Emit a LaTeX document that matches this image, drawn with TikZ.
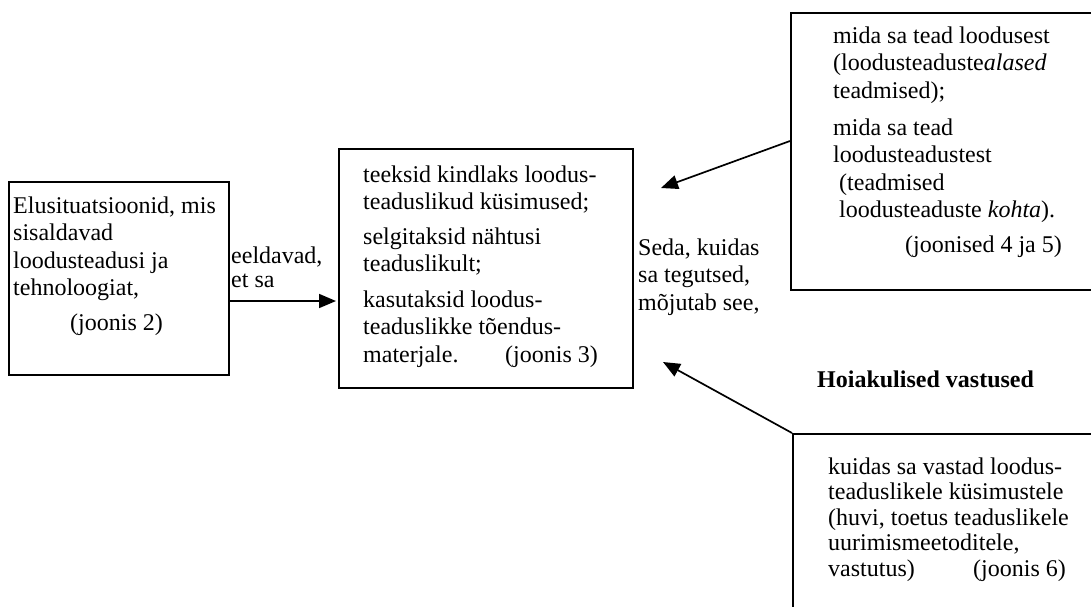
\documentclass[tikz,border=0pt]{standalone}
\usepackage{fontspec}
\setmainfont{Liberation Serif}
\usetikzlibrary{arrows.meta}
\newcommand\fstrut{\rule{0pt}{19.25pt}}
\begin{document}
\begin{tikzpicture}[x=1pt,y=-1pt,
  boxnode/.style={draw, line width=1.9pt, inner sep=0pt, anchor=north west},
  txt/.style={anchor=north west, inner sep=0pt, align=left,
    font=\fontsize{24}{27.5}\selectfont},
  arr/.style={line width=1.7pt, -{Triangle[length=17pt,width=14pt]}}]
\useasboundingbox (0,0) rectangle (1091,606);
\clip (0,0) rectangle (1091,606);
% boxes
\node[boxnode, minimum width=220pt, minimum height=193pt] (L) at (8,181) {};
\node[boxnode, minimum width=294pt, minimum height=239pt] (M) at (338,148) {};
\node[boxnode, minimum width=330pt, minimum height=277pt] (TR) at (790,12) {};
\node[boxnode, minimum width=330pt, minimum height=200pt] (BR) at (792,433) {};
% texts
\node[txt] (Lt) at (13,{213-19.25}) {\fstrut Elusituatsioonid, mis\\ sisaldavad\\ loodusteadusi ja\\ tehnoloogiat,\\[7pt] \hspace*{57pt}(joonis 2)};
\node[txt] (Et) at (231,{263-19.25}) {\fstrut eeldavad,\\[-3pt] et sa};
\node[txt] (Mt) at (363,{182-19.25}) {\fstrut teeksid kindlaks loodus-\\ teaduslikud küsimused;\\[7pt] selgitaksid nähtusi\\ teaduslikult;\\[8pt] kasutaksid loodus-\\ teaduslikke tõendus-\\ \makebox[142pt][l]{materjale.}(joonis 3)};
\node[txt] (St) at (638,{255-19.25}) {\fstrut Seda, kuidas\\ sa tegutsed,\\ mõjutab see,};
\node[txt] (TRt) at (833,{43-19.25}) {\fstrut mida sa tead loodusest\\ (loodusteaduste\textit{alased}\\ teadmised);\\[9.5pt] mida sa tead\\ loodusteadustest\\ \hspace*{6pt}(teadmised\\ \hspace*{6pt}loodusteaduste \textit{kohta}).\\[7pt] \hspace*{72pt}(joonised 4 ja 5)};
\node[txt, font=\fontsize{24}{27.5}\selectfont\bfseries] (H) at (817,{387-19.25}) {\fstrut Hoiakulised vastused};
\node[txt, font=\fontsize{24}{25.5}\selectfont] (BRt) at (828,{474-19.25}) {\fstrut kuidas sa vastad loodus-\\ teaduslikele küsimustele\\ (huvi, toetus teaduslikele\\ uurimismeetoditele,\\ \makebox[145pt][l]{vastutus)}(joonis 6)};
% connectors
\coordinate (t1) at (336,301);
\coordinate (s2) at (0,141);
\coordinate (t2) at (661,188);
\coordinate (t3) at (663,362);
\draw[arr] (L.east |- t1) -- (t1);
\draw[arr] (TR.west |- s2) -- (t2);
\draw[arr] (BR.north west) -- (t3);
\end{tikzpicture}
\end{document}
